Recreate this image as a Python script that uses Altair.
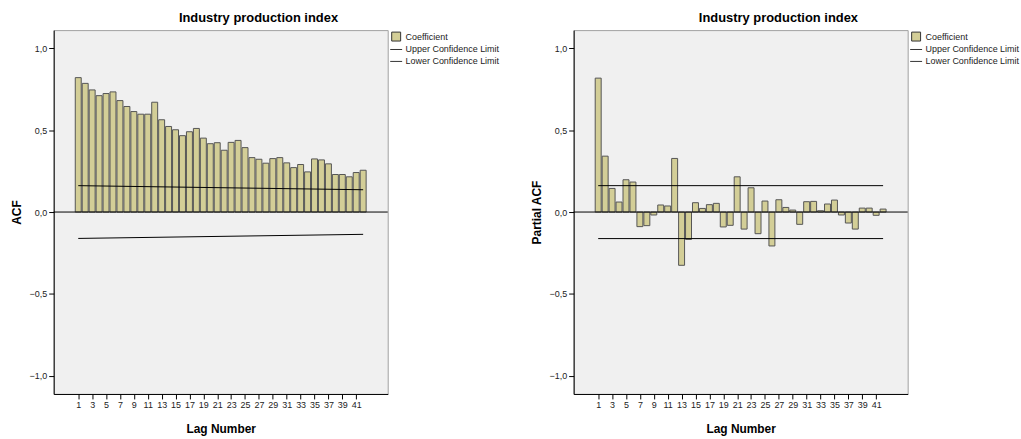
import altair as alt
import pandas as pd

LAGS = list(range(1, 43))
ACF = [0.820, 0.785, 0.745, 0.710, 0.723, 0.733, 0.680, 0.644, 0.613, 0.597,
       0.597, 0.670, 0.563, 0.522, 0.502, 0.466, 0.490, 0.510, 0.451, 0.417,
       0.423, 0.377, 0.425, 0.437, 0.393, 0.332, 0.322, 0.298, 0.326, 0.332,
       0.300, 0.271, 0.290, 0.245, 0.324, 0.318, 0.294, 0.229, 0.229, 0.215,
       0.241, 0.255]
PACF = [0.817, 0.341, 0.144, 0.061, 0.197, 0.183, -0.089, -0.083, -0.018, 0.043,
        0.037, 0.327, -0.325, -0.167, 0.057, 0.022, 0.045, 0.053, -0.091, -0.081,
        0.215, -0.104, 0.148, -0.132, 0.067, -0.207, 0.075, 0.028, 0.012, -0.075,
        0.063, 0.065, 0.008, 0.049, 0.073, -0.018, -0.067, -0.104, 0.024, 0.024,
        -0.020, 0.018]
LIMIT_LAGS = [1, 42]
ACF_UPPER = [0.161, 0.136]
ACF_LOWER = [-0.161, -0.136]
PACF_UPPER = [0.161, 0.161]
PACF_LOWER = [-0.162, -0.162]
TICK_LAGS = [1, 3, 5, 7, 9, 11, 13, 15, 17, 19, 21, 23, 25, 27, 29, 31, 33, 35, 37, 39, 41]
Y_TICKS = [-1.0, -0.5, 0.0, 0.5, 1.0]
SERIES = ["Coefficient", "Upper Confidence Limit", "Lower Confidence Limit"]
TITLE = "Industry production index"

FONT = "Liberation Sans"
BAR_FILL = "#d3ce97"


def panel(values, upper, lower, ytitle):
    bars_df = pd.DataFrame({"lag": LAGS, "value": values, "series": SERIES[0]})
    lim_df = pd.DataFrame({
        "lag": LIMIT_LAGS + LIMIT_LAGS,
        "value": upper + lower,
        "series": [SERIES[1]] * 2 + [SERIES[2]] * 2,
    })
    zero_df = pd.DataFrame({"value": [0.0]})

    x = alt.X("lag:Q",
              scale=alt.Scale(domain=[-1.82, 44.82], nice=False, zero=False),
              axis=alt.Axis(values=TICK_LAGS, tickCount=60, format="d", title="Lag Number",
                            grid=False, labelPadding=2, titlePadding=14,
                            labelFlush=False, labelOverlap=False))
    y = alt.Y("value:Q",
              scale=alt.Scale(domain=[-1.11, 1.11], nice=False, zero=False),
              axis=alt.Axis(values=Y_TICKS, tickCount=10, title=ytitle, grid=False,
                            labelExpr="replace(format(datum.value, '.1f'), '.', ',')",
                            labelPadding=2, titlePadding=6))
    color = alt.Color(
        "series:N",
        scale=alt.Scale(domain=SERIES, range=[BAR_FILL, "black", "black"]),
        legend=alt.Legend(
            title=None, orient="right", offset=2, padding=0,
            labelFont=FONT, labelFontSize=9, labelColor="#222", labelOffset=3,
            symbolType=alt.ExprRef(expr="datum.value == 'Coefficient' ? 'square' : 'stroke'"),
            symbolSize=alt.ExprRef(expr="datum.value == 'Coefficient' ? 81 : 144"),
            symbolStrokeColor="#333", symbolStrokeWidth=1, rowPadding=0,
        ),
    )

    bars = alt.Chart(bars_df).mark_bar(size=6, stroke="#555555", strokeWidth=1).encode(
        x=x, y=y, color=color)
    lines = alt.Chart(lim_df).mark_line(color="black", strokeWidth=1).encode(
        x="lag:Q", y="value:Q", detail="series:N")
    zero = alt.Chart(zero_df).mark_rule(color="black", strokeWidth=1).encode(y="value:Q")

    return alt.layer(bars, lines, zero).properties(
        width=336, height=366,
        title=alt.TitleParams(TITLE, font=FONT, fontSize=13, fontWeight="bold",
                              anchor="middle", frame="group", dx=38, offset=5,
                              color="black"),
    )


left = panel(ACF, ACF_UPPER, ACF_LOWER, "ACF")
right = panel(PACF, PACF_UPPER, PACF_LOWER, "Partial ACF")

chart = alt.hconcat(left, right, spacing=28).resolve_scale(color="independent").properties(
    padding={"left": 9, "top": 10, "right": 0, "bottom": 0},
    background="white",
).configure_view(
    fill="#f0f0f0", stroke="#a0a0a0", strokeWidth=1,
).configure_axis(
    domainColor="black", tickColor="black", labelColor="#222",
    labelFont=FONT, titleFont=FONT, labelFontSize=9, titleFontSize=12,
    titleFontWeight="bold", titleColor="black", tickSize=5, domainWidth=1,
)

chart.save("out.html", embed_options={"renderer": "svg", "actions": False})
